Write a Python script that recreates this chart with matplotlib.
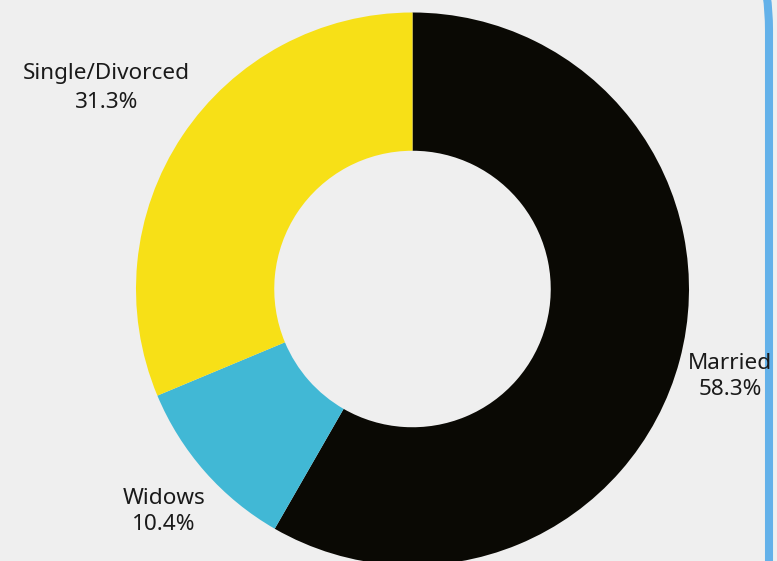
import matplotlib
matplotlib.use("Agg")
import matplotlib.pyplot as plt
from matplotlib.patches import FancyBboxPatch
import numpy as np

categories = ["Married", "Widows", "Single/Divorced"]
values = [58.3, 10.4, 31.3]
colors = ["#0a0904", "#41b8d5", "#f7e017"]
label_dist = [1.19, 1.20, 1.33]
label_spacing = [1.3, 1.3, 1.5]

W, H = 777, 561
fig = plt.figure(figsize=(W / 100, H / 100), dpi=100)
fig.patch.set_facecolor("#efefef")
ax = fig.add_axes([0, 0, 1, 1])
ax.set_facecolor("#efefef")

cx, cy, R = 412.5, H - 289, 276.5
wedges, _ = ax.pie(values, colors=colors, startangle=90, counterclock=False,
                   radius=R, center=(cx, cy),
                   wedgeprops=dict(width=R * 0.5, linewidth=0))

for w, name, v, d, ls in zip(wedges, categories, values, label_dist, label_spacing):
    ang = np.deg2rad((w.theta1 + w.theta2) / 2)
    x = cx + R * d * np.cos(ang)
    y = cy + R * d * np.sin(ang) - 3
    ax.text(x, y, f"{name}\n{v:.1f}%", ha="center", va="center",
            fontsize=16.2, family=["Noto Sans", "DejaVu Sans"], color="#1a1a1a",
            linespacing=ls, zorder=5)

# blue rounded frame on the right
frame = FancyBboxPatch((-600, -300), 769 - (-600), (H + 120) - (-300),
                       boxstyle="round,pad=0,rounding_size=150",
                       fill=False, edgecolor="#63b1e9", linewidth=5.8, zorder=3)
ax.add_patch(frame)

ax.set_xlim(0, W)
ax.set_ylim(0, H)
ax.set_aspect("auto")
ax.axis("off")
fig.savefig("out.png", dpi=100, facecolor=fig.get_facecolor())
